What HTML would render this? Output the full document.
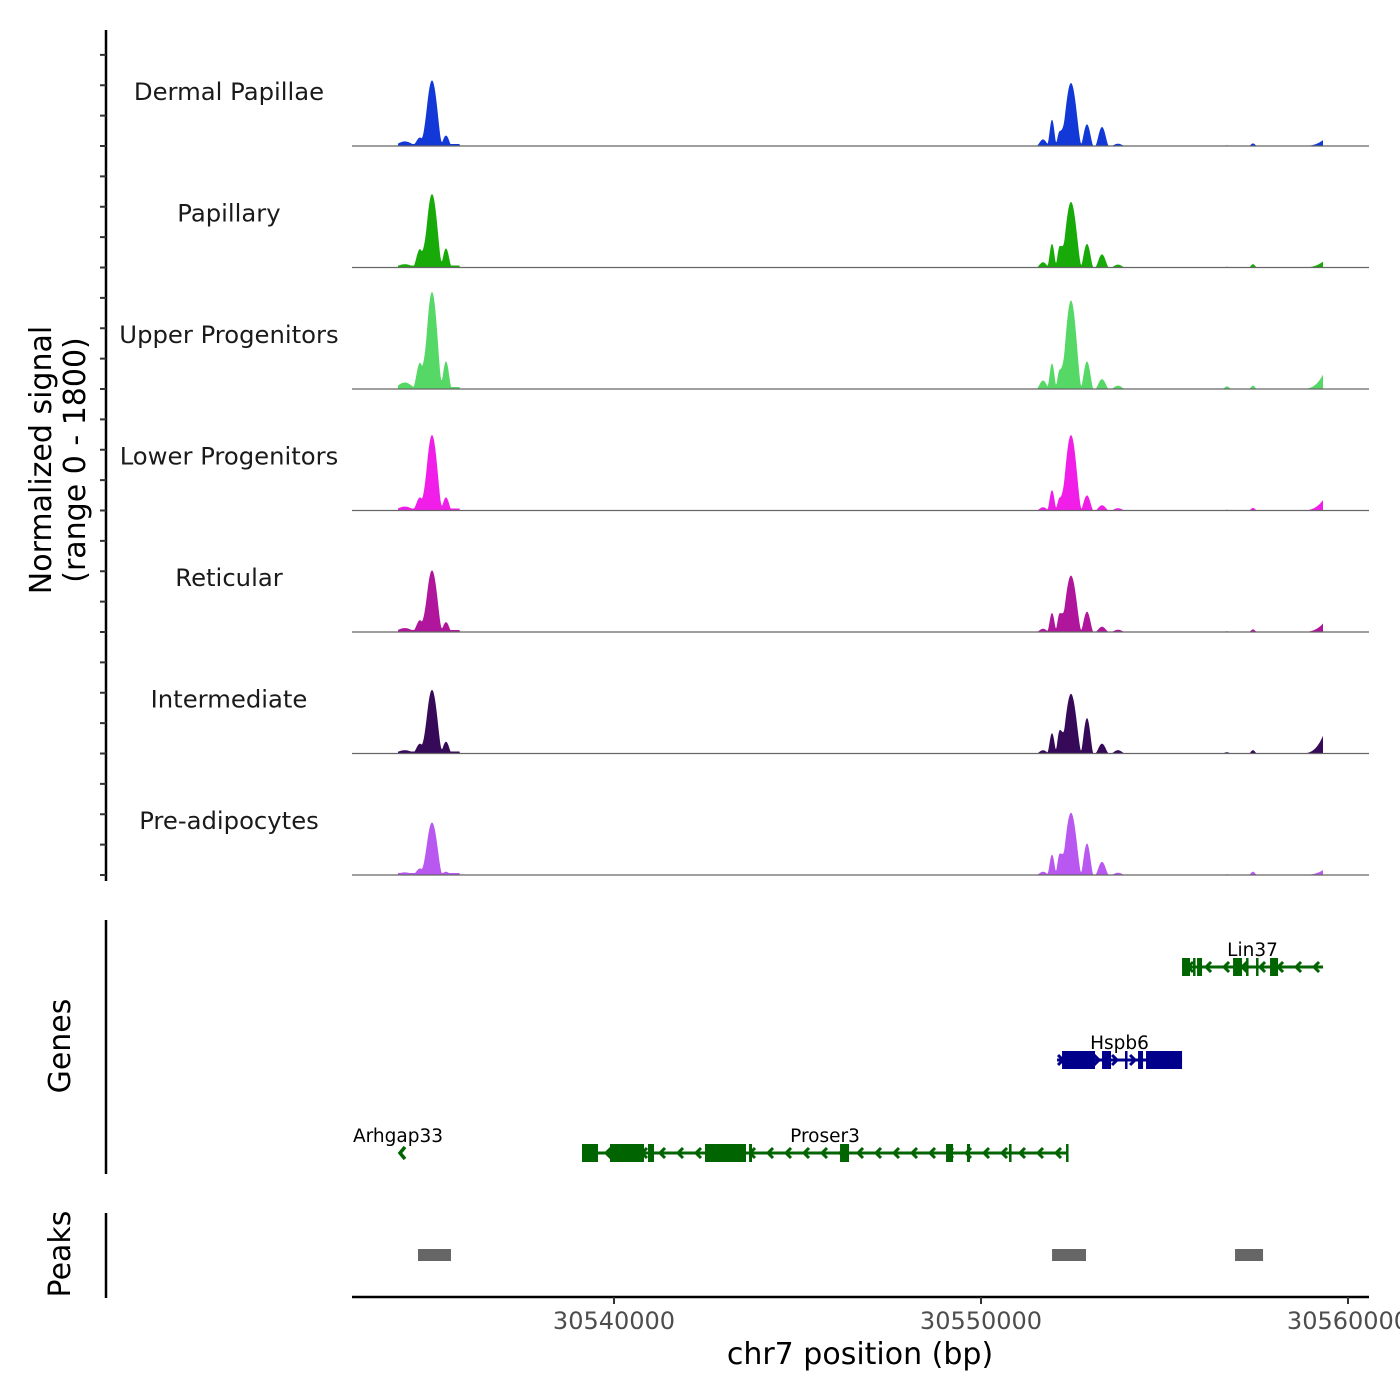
<!DOCTYPE html>
<html><head><meta charset="utf-8"><style>
html,body{margin:0;padding:0;background:#fff;}
svg{display:block;font-family:"DejaVu Sans","Liberation Sans",sans-serif;}
</style></head><body>
<svg id="chart" width="1400" height="1400" viewBox="0 0 1400 1400" xmlns="http://www.w3.org/2000/svg"></svg>
<script>
// ---- data ----
const tracks = ["Dermal Papillae","Papillary","Upper Progenitors","Lower Progenitors","Reticular","Intermediate","Pre-adipocytes"];
const colors = ["#1238d8","#18aa08","#55d866","#f01ee8","#b0169c","#360a58","#b858f0"];
// peak centers (bp) and half widths (bp)
const peakCenters = [30534300,30534714,30535041,30535422,30551690,30551935,30552150,30552452,30552888,30553297,30553733,30556700,30557411];
const peakWidths  = [350,190,290,160,180,130,130,300,180,190,200,120,110];
// signal per track for each peak (0-1800 range)
const sigDP  = [70,130,1000,160,100,400,230,960,330,290,35,10,40];
const sigPap = [50,280,1120,290,80,360,330,1000,360,200,45,10,50];
const sigUp  = [100,400,1480,420,130,390,300,1350,420,150,50,40,50];
const sigLow = [60,200,1150,200,50,310,200,1150,230,80,35,10,40];
const sigRet = [60,180,940,150,50,290,290,860,310,80,35,10,40];
const sigInt = [50,150,970,180,50,310,360,910,540,150,50,20,50];
const sigPre = [40,100,800,50,50,310,330,950,480,200,35,10,50];
const trackSignals = [sigDP,sigPap,sigUp,sigLow,sigRet,sigInt,sigPre];
const endSpike = [90,90,220,160,130,270,75];
const xTicks = [30540000,30550000,30560000];
const peakRegions = [[30534659,30535558],[30551936,30552862],[30556922,30557685]];
const genes = [
 {name:"Lin37",start:30555478,end:30559320,row:0,dir:-1,color:"#006400",
  exons:[[30555478,30555696],[30555778,30555830],[30555887,30556023],[30556868,30557113],[30557222,30557280],[30557494,30557550],[30557876,30558094]]},
 {name:"Hspb6",start:30552072,end:30555478,row:1,dir:1,color:"#00008b",
  exons:[[30552208,30553107],[30553298,30553543],[30553924,30553980],[30554279,30554415],[30554497,30555478]]},
 {name:"Proser3",start:30539128,end:30552372,row:2,dir:-1,color:"#006400",
  exons:[[30539128,30539564],[30539891,30540818],[30540927,30541090],[30542480,30543597],[30543679,30543761],[30546159,30546404],[30549047,30549238],[30549619,30549700],[30550764,30550818],[30552317,30552372]]},
 {name:"Arhgap33",start:30533100,end:30533300,row:2,dir:-1,color:"#006400",exons:[]}
];
// ---- scales ----
const svg=document.getElementById('chart');
const NS='http://www.w3.org/2000/svg';
const X0=352,X1=1369;
function xs(bp){return 614+(bp-30540000)*0.0367;}
const trackH=121.5, base0=146;
function ys(v){return v/1800*118;}
function el(tag,attrs,parent){const e=document.createElementNS(NS,tag);for(const k in attrs)e.setAttribute(k,attrs[k]);(parent||svg).appendChild(e);return e;}

// left axis
const axL=el('line',{x1:106,y1:30,x2:106,y2:881,stroke:'#000','stroke-width':2.5});


for(let k=0;k<28;k++){const y=875-k*trackH/4;const t=el('line',{x1:100,y1:y,x2:106,y2:y,stroke:'#333','stroke-width':2});

}
const yt=el('text',{x:0,y:0,transform:'translate(54,460) rotate(-90)','text-anchor':'middle','font-size':30});


yt.innerHTML='<tspan x="0" dy="-3">Normalized signal</tspan><tspan x="0" dy="34">(range 0 - 1800)</tspan>';

// tracks
tracks.forEach((name,i)=>{
  const base=base0+i*trackH;const sig=trackSignals[i];
  const g=el('g',{});
  
  
  let pts=[];
  for(let px=398;px<=1323;px+=0.5){
    let v=0;
    peakCenters.forEach((c,j)=>{const d=Math.abs(px-xs(c))/(peakWidths[j]*0.0367);if(d<1){const q=1-d*d;v+=sig[j]*q*q;}});
    if(px<460) v=Math.max(v,30);
    if(px>1300){v=Math.max(v,endSpike[i]*Math.pow((px-1300)/23,3));}
    v=Math.min(v,1800);
    pts.push(px.toFixed(1)+','+(base-ys(v)).toFixed(1));
  }
  const a=el('polygon',{points:'398,'+base+' '+pts.join(' ')+' 1323,'+base,fill:colors[i]},g);
  
  
  const bl=el('line',{x1:X0,y1:base,x2:X1,y2:base,stroke:'#666','stroke-width':1.2},g);
  
  
  const lb=el('text',{x:229,y:base-46,'text-anchor':'middle','font-size':24.3,fill:'#1a1a1a'},g);
  
  
  lb.textContent=name;
});

// genes
const gAx=el('line',{x1:106,y1:920,x2:106,y2:1174,stroke:'#000','stroke-width':2.5});


const gt=el('text',{x:0,y:0,transform:'translate(70,1046) rotate(-90)','text-anchor':'middle','font-size':30});


gt.textContent='Genes';
const rowY=[967,1060,1153];
genes.forEach(gn=>{
  const y=rowY[gn.row];const g=el('g',{});
  
  
  const x1=xs(gn.start),x2=xs(gn.end);
  if(gn.exons.length){
    el('line',{x1:x1,y1:y,x2:x2,y2:y,stroke:gn.color,'stroke-width':3},g);
    const step=18;
    for(let x=x1+6;x<=x2-2;x+=step){
      const d=-gn.dir*5;
      el('polyline',{points:(x+d)+','+(y-5)+' '+x+','+y+' '+(x+d)+','+(y+5),fill:'none',stroke:gn.color,'stroke-width':3},g);
    }
  } else {
    el('polyline',{points:'405,1147 400,1153 405,1159',fill:'none',stroke:gn.color,'stroke-width':3.5},g);
  }
  gn.exons.forEach(e=>{const r=el('rect',{x:xs(e[0]),y:y-9,width:Math.max(2.5,xs(e[1])-xs(e[0])),height:18,fill:gn.color},g);
  
  });
  const lx=gn.name==='Arhgap33'?398:(x1+x2)/2;
  const t=el('text',{x:lx,y:y-11,'text-anchor':'middle','font-size':18.5,fill:'#000'},g);
  
  
  t.textContent=gn.name;
});

// peaks
const pAx=el('line',{x1:106,y1:1213,x2:106,y2:1298,stroke:'#000','stroke-width':2.5});


const pt=el('text',{x:0,y:0,transform:'translate(70,1254) rotate(-90)','text-anchor':'middle','font-size':30});


pt.textContent='Peaks';
peakRegions.forEach(p=>{const r=el('rect',{x:xs(p[0]),y:1249,width:xs(p[1])-xs(p[0]),height:12,fill:'#666'});

});

// x axis
const xa=el('line',{x1:X0,y1:1297,x2:X1,y2:1297,stroke:'#000','stroke-width':2.5});


xTicks.forEach(v=>{const x=xs(v);
  const t=el('line',{x1:x,y1:1297,x2:x,y2:1304,stroke:'#333','stroke-width':2});
  
  
  const l=el('text',{x:x,y:1329,'text-anchor':'middle','font-size':24,fill:'#4d4d4d'});
  
  
  l.textContent=v;});
const xt=el('text',{x:860,y:1364,'text-anchor':'middle','font-size':30});


xt.textContent='chr7 position (bp)';
</script>
</body></html>
